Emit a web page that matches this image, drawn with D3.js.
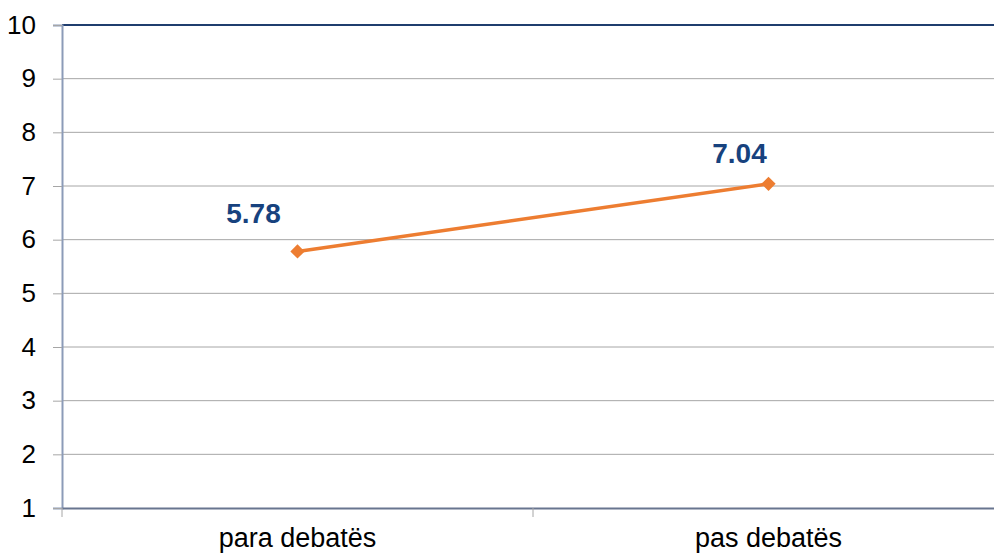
<!DOCTYPE html>
<html lang="sq">
<head>
<meta charset="utf-8">
<title>Para / pas debatës</title>
<script src="https://d3js.org/d3.v7.min.js"></script>
<style>
  body { margin: 0; background: #fff; }
  text { font-family: "Liberation Sans", Arial, sans-serif; }
</style>
</head>
<body>
<script>
// data
var categories = ["para debatës", "pas debatës"];
var values = [5.78, 7.04];
var yTicks = [1, 2, 3, 4, 5, 6, 7, 8, 9, 10];

// label offsets (left / up from the point), as in the original
var labelDx = [-44, -29];
var labelDy = [-28, -21];

var W = 994, H = 554;
var margin = {top: 25, right: -10, bottom: 46, left: 62};
var width = W - margin.left - margin.right;
var height = H - margin.top - margin.bottom;

var svg = d3.select("body").append("svg")
    .attr("width", W)
    .attr("height", H);

var g = svg.append("g")
    .attr("transform", "translate(" + margin.left + "," + margin.top + ")");

var x = d3.scaleBand().domain(categories).range([0, width]);
var y = d3.scaleLinear().domain([1, 10]).range([height, 0]);

// gridlines
g.selectAll(".grid").data(yTicks.slice(1, -1)).enter().append("line")
    .attr("x1", 0).attr("x2", width)
    .attr("y1", function(d) { return y(d); })
    .attr("y2", function(d) { return y(d); })
    .attr("stroke", "#a6a6a6")
    .attr("stroke-width", 1);

// top border
g.append("line")
    .attr("x1", 0).attr("x2", width)
    .attr("y1", y(10)).attr("y2", y(10))
    .attr("stroke", "#1f3d6e").attr("stroke-width", 2);

// y axis
var yAxis = g.append("g").call(d3.axisLeft(y).tickValues(yTicks).tickSize(9).tickPadding(17).tickFormat(d3.format("d")));
yAxis.select(".domain").attr("stroke", "#8c9bb8").attr("stroke-width", 2);
yAxis.selectAll(".tick line").attr("stroke", "#a6a6a6");
yAxis.selectAll(".tick text").attr("font-size", "26px").attr("fill", "#000")
    .style("font-family", "'Liberation Sans', Arial, sans-serif");

// x axis
var xAxis = g.append("g")
    .attr("transform", "translate(0," + height + ")")
    .call(d3.axisBottom(x).tickSize(0));
xAxis.select(".domain").attr("stroke", "#68758f").attr("stroke-width", 2);
xAxis.selectAll(".tick text")
    .attr("y", 39).attr("dy", null)
    .attr("font-size", "27px").attr("fill", "#000")
    .style("font-family", "'Liberation Sans', Arial, sans-serif");
// category boundary ticks
var bounds = [0, x.step(), width];
g.selectAll(".xb").data(bounds).enter().append("line")
    .attr("x1", function(d) { return d; }).attr("x2", function(d) { return d; })
    .attr("y1", height).attr("y2", height + 9)
    .attr("stroke", "#a6a6a6");

var cx = function(d, i) { return x(categories[i]) + x.bandwidth() / 2; };

// line
var line = d3.line()
    .x(function(d, i) { return cx(d, i); })
    .y(function(d) { return y(d); });
g.append("path")
    .datum(values)
    .attr("d", line)
    .attr("fill", "none")
    .attr("stroke", "#ed7d31")
    .attr("stroke-width", 3.5);

// markers
g.selectAll(".pt").data(values).enter().append("path")
    .attr("d", d3.symbol().type(d3.symbolDiamond2).size(130))
    .attr("transform", function(d, i) { return "translate(" + cx(d, i) + "," + y(d) + ")"; })
    .attr("fill", "#ed7d31");

// value labels
g.selectAll(".lbl").data(values).enter().append("text")
    .attr("x", function(d, i) { return cx(d, i) + labelDx[i]; })
    .attr("y", function(d, i) { return y(d) + labelDy[i]; })
    .attr("text-anchor", "middle")
    .attr("font-size", "28px")
    .attr("font-weight", "bold")
    .attr("fill", "#17427e")
    .text(function(d) { return d3.format(".2f")(d); });
</script>
</body>
</html>
